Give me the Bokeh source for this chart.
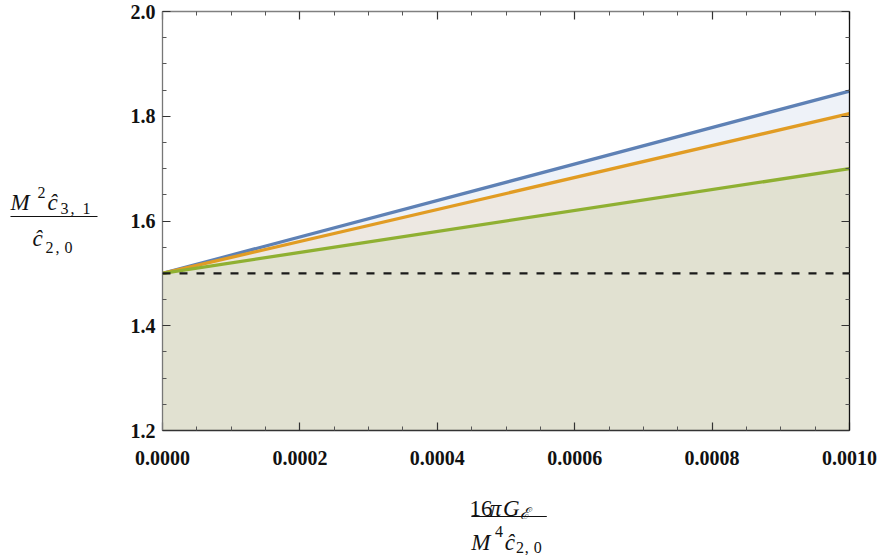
from bokeh.plotting import figure
from bokeh.models import (Range1d, LinearAxis, FixedTicker, Label, Span, BoxAnnotation)
from bokeh.layouts import row, column
from bokeh.embed import file_html
from bokeh.resources import INLINE

# ---------------- data ----------------
coupling = [0.0, 0.001]                 # 16 pi G / (M^4 c20)
bound_blue = [1.5, 1.848]
bound_orange = [1.5, 1.805]
bound_green = [1.5, 1.700]
reference_level = 1.5
y_floor = 1.2

x_ticks = [0.0, 0.0002, 0.0004, 0.0006, 0.0008, 0.0010]
x_tick_labels = ["0.0000", "0.0002", "0.0004", "0.0006", "0.0008", "0.0010"]
y_ticks = [1.2, 1.4, 1.6, 1.8, 2.0]
y_tick_labels = ["1.2", "1.4", "1.6", "1.8", "2.0"]

# ---------------- layout (pixels) ----------------
W, H = 893, 555
LW = 110                 # width of the left title strip
BH = 78                  # height of the bottom title strip
FL, FR, FT, FB = 162, 849, 11, 430   # frame edges in page pixels

MW, MH = W - LW, H - BH

X0, X1 = 0.0, 0.001
Y0, Y1 = 1.2, 2.0

p = figure(width=MW, height=MH, output_backend="svg", toolbar_location=None,
           x_range=Range1d(X0, X1), y_range=Range1d(Y0, Y1),
           min_border_left=FL - LW, min_border_right=W - FR,
           min_border_top=FT, min_border_bottom=MH - FB,
           background_fill_color="white", border_fill_color="white")
p.outline_line_color = None
p.grid.visible = False


def minor_between(ticks, n=4):
    out = []
    for a, b in zip(ticks[:-1], ticks[1:]):
        for k in range(1, n):
            out.append(a + (b - a) * k / n)
    return out


xt = FixedTicker(ticks=x_ticks, minor_ticks=minor_between(x_ticks))
yt = FixedTicker(ticks=y_ticks, minor_ticks=minor_between(y_ticks))

TICK_FONT = "Liberation Serif"


def style_axis(ax, line_color, show_labels=True):
    ax.axis_line_color = line_color
    ax.axis_line_width = 1.3
    ax.major_tick_in = 8
    ax.major_tick_out = 0
    ax.minor_tick_in = 4
    ax.minor_tick_out = 0
    ax.major_tick_line_color = "#333333"
    ax.minor_tick_line_color = "#555555"
    ax.major_tick_line_width = 1.2
    ax.minor_tick_line_width = 1
    if show_labels:
        ax.major_label_text_font = TICK_FONT
        ax.major_label_text_font_style = "bold"
        ax.major_label_text_font_size = "20px"
        ax.major_label_text_color = "#111111"
    else:
        ax.major_label_text_font_size = "1px"
        ax.major_label_text_color = None
        ax.major_label_standoff = 0


xa = p.xaxis[0]
xa.ticker = xt
xa.major_label_overrides = {t: s for t, s in zip(x_ticks, x_tick_labels)}
style_axis(xa, "#333333")
xa.major_label_standoff = 20

ya = p.yaxis[0]
ya.ticker = yt
ya.major_label_overrides = {t: s for t, s in zip(y_ticks, y_tick_labels)}
style_axis(ya, "#777777")
ya.major_label_standoff = 7

top = LinearAxis(ticker=xt)
style_axis(top, "#808080", show_labels=False)
p.add_layout(top, "above")
right = LinearAxis(ticker=yt)
style_axis(right, "#111111", show_labels=False)
p.add_layout(right, "right")

# ---------------- fills & lines ----------------
floor = [y_floor for _ in coupling]
p.varea(x=coupling, y1=floor, y2=bound_green, fill_color="#E1E1D1")
p.varea(x=coupling, y1=bound_green, y2=bound_orange, fill_color="#EDE8E2")
p.varea(x=coupling, y1=bound_orange, y2=bound_blue, fill_color="#EEF2F8")

p.add_layout(Span(location=reference_level, dimension="width",
                  line_color="#1a1a1a", line_width=2.2, line_dash="8 9"))

p.line(coupling, bound_blue, line_color="#5E81B5", line_width=3.3)
p.line(coupling, bound_orange, line_color="#E19C24", line_width=3.3)
p.line(coupling, bound_green, line_color="#8FB032", line_width=3.3)

# ---------------- title strips (page-pixel coordinates, y downward) ----------------


def strip(width, height, x_from, y_from):
    f = figure(width=width, height=height, output_backend="svg",
               toolbar_location=None,
               x_range=Range1d(x_from, x_from + width),
               y_range=Range1d(y_from + height, y_from),
               min_border=0, min_border_left=0, min_border_right=0,
               min_border_top=0, min_border_bottom=0,
               background_fill_color="white", border_fill_color="white")
    f.axis.visible = False
    f.grid.visible = False
    f.outline_line_color = None
    return f


ys = strip(LW, H, 0, 0)
xs = strip(MW, BH, LW, MH)

MATH_FONT = "Liberation Serif"


def put(f, text, sx, sy, size, italic=False, font=MATH_FONT):
    f.add_layout(Label(x=sx, y=sy, text=text, text_font=font,
                       text_font_size=f"{size}px",
                       text_font_style="italic" if italic else "normal",
                       text_align="left", text_baseline="alphabetic",
                       text_color="#111111"))


def bar(f, sx0, sx1, sy):
    f.add_layout(BoxAnnotation(left=sx0, right=sx1, top=sy - 0.6, bottom=sy + 0.6,
                               fill_color="#111111", fill_alpha=1.0,
                               line_color=None))


# y title:  M^2 c_{3,1} / c_{2,0}
put(ys, "M", 10, 202, 23, italic=True)
put(ys, "2", 37, 192, 16)
put(ys, "ĉ", 47, 202, 23, italic=True)
put(ys, "3", 60, 208, 16)
put(ys, ",", 70, 208, 16)
put(ys, "1", 82, 208, 16)
bar(ys, 10, 97, 216)
put(ys, "ĉ", 32, 238, 23, italic=True)
put(ys, "2", 45, 247, 16)
put(ys, ",", 55, 247, 16)
put(ys, "0", 64, 247, 16)

# x title:  16 pi G_E / M^4 c_{2,0}
put(xs, "16", 460, 508, 23)
put(xs, "π", 483, 508, 23, italic=True)
put(xs, "G", 498, 508, 23, italic=True)
put(xs, "ℰ", 517, 513, 16, italic=True)
bar(xs, 462, 548, 516)
put(xs, "M", 462, 542, 23, italic=True)
put(xs, "4", 489, 531, 16)
put(xs, "ĉ", 500, 542, 23, italic=True)
put(xs, "2", 513, 547, 16)
put(xs, ",", 523, 547, 16)
put(xs, "0", 533, 547, 16)

layout = row(ys, column(p, xs, spacing=0), spacing=0)
open("out.html", "w").write(file_html(layout, INLINE))
